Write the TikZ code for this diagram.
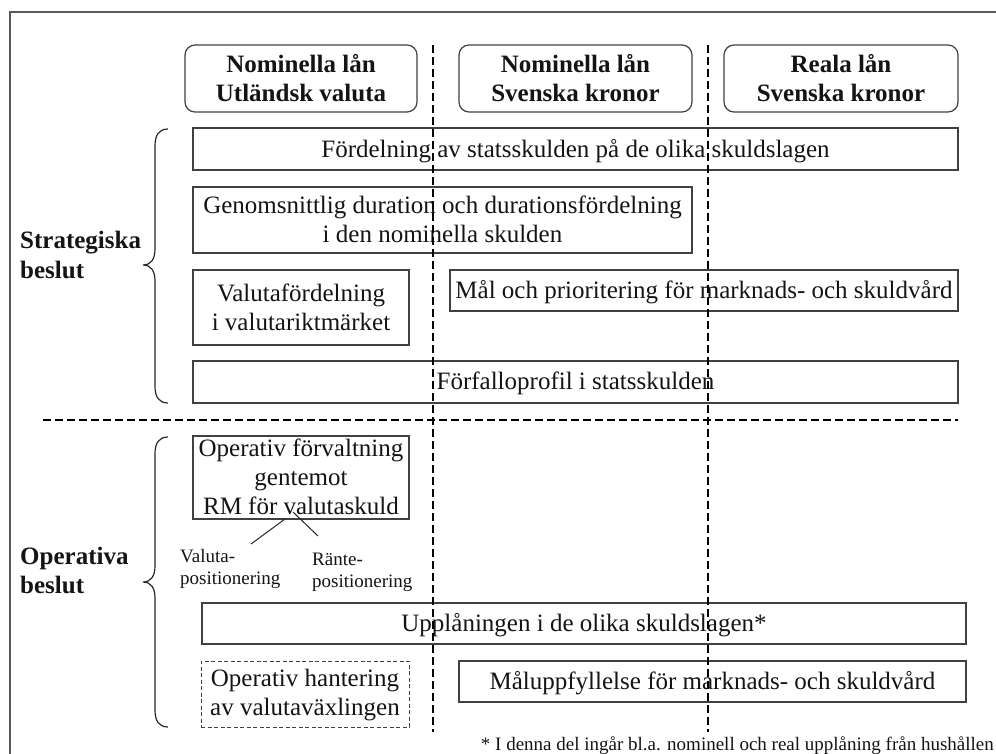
\documentclass[tikz,border=0pt]{standalone}
\usepackage{fontspec}
\setmainfont{Liberation Serif}
\begin{document}
\begin{tikzpicture}[x=1pt,y=-1pt,
  box/.style={draw=black!75, line width=1.2pt, inner sep=0pt, outer sep=0pt},
  hbox/.style={box, rounded corners=10pt},
  dbox/.style={box, line width=1pt, dash pattern=on 4pt off 2.5pt},
  txt/.style={inner sep=0pt, align=center, text=black!92, font=\fontsize{25}{29}\selectfont},
  htxt/.style={txt, font=\fontsize{25}{29}\selectfont\bfseries},
  side/.style={inner sep=0pt, align=left, anchor=west, text=black!92, font=\fontsize{25}{29}\selectfont\bfseries},
  small/.style={inner sep=0pt, align=left, text=black!92, font=\fontsize{19}{22}\selectfont},
  sep/.style={line width=2pt, dash pattern=on 8pt off 4pt},
  brace/.style={draw=black!85, line width=1.2pt},
  tick/.style={draw=black!85, line width=1pt},
]
\useasboundingbox (0,0) rectangle (996,754);
\clip (0,0) rectangle (996,754);
\draw[black!65, line width=1.5pt] (10,12) rectangle (1010,770);

% headers
\node[hbox, minimum width=232pt, minimum height=67pt] (h1) at (301,78.5) {};
\node[hbox, minimum width=233pt, minimum height=67pt] (h2) at (575.5,78.5) {};
\node[hbox, minimum width=234pt, minimum height=67pt] (h3) at (841,78.5) {};
\node[htxt] (h1t) at ([yshift=-3pt]h1.center) {\strut Nominella lån\\\strut Utländsk valuta};
\node[htxt] (h2t) at ([yshift=-3pt]h2.center) {\strut Nominella lån\\\strut Svenska kronor};
\node[htxt] (h3t) at ([yshift=-3pt]h3.center) {\strut Reala lån\\\strut Svenska kronor};

% strategic boxes
\node[box, minimum width=765pt, minimum height=42pt] (f) at (575.5,149) {};
\node[txt] (ft) at ([yshift=-3pt]f.center) {\strut Fördelning av statsskulden på de olika skuldslagen};
\node[box, minimum width=499pt, minimum height=66pt] (g) at (442.5,220) {};
\node[txt] (gt) at ([yshift=-2pt]g.center) {\strut Genomsnittlig duration och durationsfördelning\\\strut i den nominella skulden};
\node[box, minimum width=216pt, minimum height=75pt] (v) at (301,307.5) {};
\node[txt] (vt) at ([yshift=-3pt]v.center) {\strut Valutafördelning\\\strut i valutariktmärket};
\node[box, minimum width=508pt, minimum height=41pt] (m) at (704,290.5) {};
\node[txt] (mt) at ([yshift=-2pt]m.center) {\strut Mål och prioritering för marknads- och skuldvård};
\node[box, minimum width=765pt, minimum height=42pt] (p) at (575.5,382) {};
\node[txt] (pt) at ([yshift=-2pt]p.center) {\strut Förfalloprofil i statsskulden};

% operative boxes
\node[box, minimum width=216pt, minimum height=83pt] (rm) at (301,477.5) {};
\node[txt] (rmt) at ([yshift=-2.5pt]rm.center) {\strut Operativ förvaltning\\\strut gentemot\\\strut RM för valutaskuld};
\node[box, minimum width=764pt, minimum height=41pt] (u) at (584,623.5) {};
\node[txt] (ut) at ([yshift=-2.5pt]u.center) {\strut Upplåningen i de olika skuldslagen*};
\node[dbox, minimum width=208pt, minimum height=66pt] (d) at (305,694) {};
\node[txt] (dt) at ([yshift=-1.5pt]d.center) {\strut Operativ hantering\\\strut av valutaväxlingen};
\node[box, minimum width=507pt, minimum height=41pt] (mu) at (712.5,681.5) {};
\node[txt] (mut) at ([yshift=-2.5pt]mu.center) {\strut Måluppfyllelse för marknads- och skuldvård};

% small labels and ticks
\node[small, anchor=west] (vp) at (180,568.6) {\strut Valuta-\\\strut positionering};
\node[small, anchor=west] (rp) at (312,571.6) {\strut Ränte-\\\strut positionering};
\coordinate (a1) at (285,519);
\coordinate (a2) at (251,544);
\coordinate (b1) at (293,512);
\coordinate (b2) at (318,536);
\draw[tick] (a1) -- (a2);
\draw[tick] (b1) -- (b2);

% side labels
\node[side] (sl) at (20,257.7) {\strut Strategiska\\\strut beslut};
\node[side] (ol) at (20,573) {\strut Operativa\\\strut beslut};

% braces
\draw[brace] (168,129) .. controls (159,129) and (155,135) .. (155,146) -- (155,249)
  .. controls (155,259) and (151,265) .. (143,265)
  .. controls (151,265) and (155,271) .. (155,281) -- (155,386)
  .. controls (155,397) and (159,403) .. (168,403);
\draw[brace] (168,437) .. controls (159,437) and (155,443) .. (155,454) -- (155,566)
  .. controls (155,576) and (151,582) .. (143,582)
  .. controls (151,582) and (155,588) .. (155,598) -- (155,710)
  .. controls (155,721) and (159,727) .. (168,727);

% footnote
\node[small, anchor=east] (fn) at (994,745.6) {\strut * I denna del ingår bl.a. nominell och real upplåning från hushållen};

% separators
\draw[sep] (433,45) -- (433,732);
\draw[sep] (708,45) -- (708,732);
\draw[sep] (43,420) -- (958,420);
\end{tikzpicture}
\end{document}
